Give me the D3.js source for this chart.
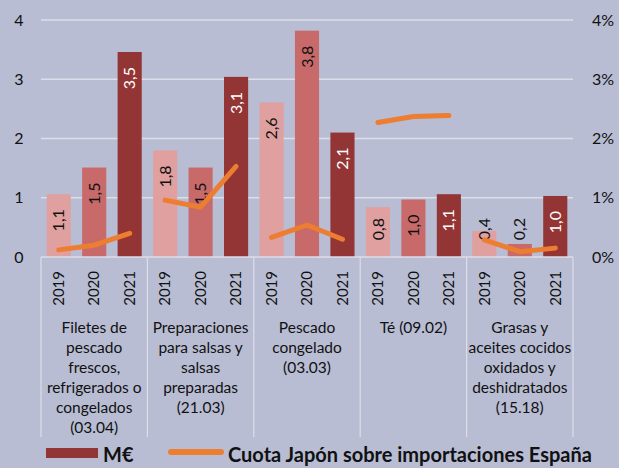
<!DOCTYPE html>
<html>
<head>
<meta charset="utf-8">
<script src="https://cdn.jsdelivr.net/npm/d3@7"></script>
<style>
  body { margin: 0; background: #b8bdd3; }
  svg { display: block; font-family: Lato, "Open Sans", sans-serif; }
</style>
</head>
<body>
<div id="chart"></div>
<script>
// values
const categories = [
  ["Filetes de", "pescado", "frescos,", "refrigerados o", "congelados", "(03.04)"],
  ["Preparaciones", "para salsas y", "salsas", "preparadas", "(21.03)"],
  ["Pescado", "congelado", "(03.03)"],
  ["Té (09.02)"],
  ["Grasas y", "aceites cocidos", "oxidados y", "deshidratados", "(15.18)"]
];
const years = ["2019", "2020", "2021"];
// M€ per category, per year
const valores = [
  [1.06, 1.51, 3.46],
  [1.80, 1.51, 3.04],
  [2.61, 3.82, 2.10],
  [0.84, 0.97, 1.06],
  [0.44, 0.22, 1.03]
];
const etiquetas = [
  ["1,1", "1,5", "3,5"],
  ["1,8", "1,5", "3,1"],
  ["2,6", "3,8", "2,1"],
  ["0,8", "1,0", "1,1"],
  ["0,4", "0,2", "1,0"]
];
// cuota Japón sobre importaciones España (%)
const cuota = [
  [0.12, 0.20, 0.40],
  [0.96, 0.84, 1.53],
  [0.33, 0.54, 0.30],
  [2.27, 2.37, 2.39],
  [0.29, 0.09, 0.15]
];
const leftTicks = [0, 1, 2, 3, 4];
const rightTicks = [0, 1, 2, 3, 4];

const width = 619, height = 468;
const margin = { top: 20, right: 46, bottom: 211, left: 41 };

const yearColor = d3.scaleOrdinal().domain(years).range(["#e0a0a0", "#c86a6a", "#943535"]);
const labelColor = d3.scaleOrdinal().domain(years).range(["#111", "#111", "#fff"]);

const svg = d3.select("#chart").append("svg")
  .attr("width", width)
  .attr("height", height);

const x0 = d3.scaleBand()
  .domain(d3.range(categories.length))
  .range([margin.left, width - margin.right])
  .padding(0);

const x1 = d3.scaleBand()
  .domain(years)
  .range([0, x0.bandwidth()])
  .paddingInner(0.32)
  .paddingOuter(0.16);

const y = d3.scaleLinear().domain([0, 4]).range([height - margin.bottom, margin.top]);
const y2 = d3.scaleLinear().domain([0, 4]).range([height - margin.bottom, margin.top]);

// gridlines
svg.append("g")
  .selectAll("line")
  .data(leftTicks.slice(1))
  .join("line")
  .attr("x1", margin.left)
  .attr("x2", width - margin.right)
  .attr("y1", d => y(d))
  .attr("y2", d => y(d))
  .attr("stroke", "#dcdee8")
  .attr("stroke-width", 1.5);

// left axis labels
svg.append("g")
  .selectAll("text")
  .data(leftTicks)
  .join("text")
  .attr("x", 19)
  .attr("y", d => y(d))
  .attr("dy", "0.35em")
  .attr("text-anchor", "middle")
  .style("font-size", "16px")
  .style("fill", "#111")
  .text(d => d);

// right axis labels
svg.append("g")
  .selectAll("text")
  .data(rightTicks)
  .join("text")
  .attr("x", 592)
  .attr("y", d => y2(d))
  .attr("dy", "0.35em")
  .attr("text-anchor", "start")
  .style("font-size", "16px")
  .style("fill", "#111")
  .text(d => d + "%");

// bars
const groups = svg.append("g")
  .selectAll("g")
  .data(valores)
  .join("g")
  .attr("transform", (d, i) => `translate(${x0(i)},0)`);

groups.selectAll("rect")
  .data((d, i) => d.map((v, j) => ({ v, year: years[j], label: etiquetas[i][j] })))
  .join("rect")
  .attr("x", d => x1(d.year))
  .attr("y", d => y(d.v))
  .attr("width", x1.bandwidth())
  .attr("height", d => y(0) - y(d.v))
  .attr("fill", d => yearColor(d.year));

// value labels (rotated, near the top of each bar)
groups.selectAll("text.val")
  .data((d, i) => d.map((v, j) => ({ v, year: years[j], label: etiquetas[i][j] })))
  .join("text")
  .attr("class", "val")
  .attr("transform", d => {
    const cx = x1(d.year) + x1.bandwidth() / 2;
    const ty = Math.min(y(d.v) + 15, y(0) - 39);
    return `translate(${cx},${ty}) rotate(-90)`;
  })
  .attr("dy", "0.35em")
  .attr("text-anchor", "end")
  .style("font-size", "16px")
  .style("fill", d => labelColor(d.year))
  .text(d => d.label);

// axis: baseline + group separators
const axisY = y(0);
svg.append("line")
  .attr("x1", margin.left).attr("x2", width - margin.right)
  .attr("y1", axisY).attr("y2", axisY)
  .attr("stroke", "#dcdee8").attr("stroke-width", 1.5);

svg.append("g")
  .selectAll("line")
  .data(d3.range(categories.length + 1))
  .join("line")
  .attr("x1", d => margin.left + d * x0.bandwidth())
  .attr("x2", d => margin.left + d * x0.bandwidth())
  .attr("y1", axisY)
  .attr("y2", 437)
  .attr("stroke", "#dcdee8")
  .attr("stroke-width", 1.2);

// year tick labels
groups.selectAll("text.year")
  .data(years)
  .join("text")
  .attr("class", "year")
  .attr("transform", d => `translate(${x1(d) + x1.bandwidth() / 2},${axisY + 14}) rotate(-90)`)
  .attr("dy", "0.35em")
  .attr("text-anchor", "end")
  .style("font-size", "15px")
  .style("fill", "#111")
  .text(d => d);

// category labels
groups.append("text")
  .attr("text-anchor", "middle")
  .style("font-size", "15.5px")
  .style("fill", "#111")
  .selectAll("tspan")
  .data((d, i) => categories[i])
  .join("tspan")
  .attr("x", x0.bandwidth() / 2)
  .attr("y", (d, k) => 333 + k * 20)
  .text(d => d);

// cuota line, one segment per category
const line = d3.line()
  .x((d, j) => x1(years[j]) + x1.bandwidth() / 2)
  .y(d => y2(d));

groups.append("path")
  .datum((d, i) => cuota[i])
  .attr("d", line)
  .attr("fill", "none")
  .attr("stroke", "#ed7d31")
  .attr("stroke-width", 5)
  .attr("stroke-linecap", "round")
  .attr("stroke-linejoin", "round");

// legend
const legend = svg.append("g");
legend.append("rect")
  .attr("x", 46).attr("y", 448)
  .attr("width", 52).attr("height", 10)
  .attr("fill", yearColor("2021"));
legend.append("text")
  .attr("x", 103).attr("y", 462)
  .style("font-size", "20px")
  .style("font-weight", "bold")
  .style("fill", "#111")
  .text("M€");
legend.append("line")
  .attr("x1", 171).attr("x2", 221)
  .attr("y1", 452).attr("y2", 452)
  .attr("stroke", "#ed7d31")
  .attr("stroke-width", 6)
  .attr("stroke-linecap", "round");
legend.append("text")
  .attr("x", 228).attr("y", 462)
  .style("font-size", "20px")
  .style("font-weight", "bold")
  .style("fill", "#111")
  .text("Cuota Japón sobre importaciones España");
</script>
</body>
</html>
